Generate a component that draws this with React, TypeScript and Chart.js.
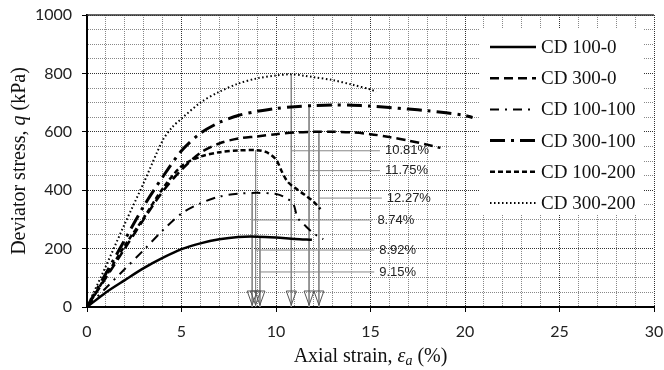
import React, { useEffect, useRef } from "react";
import { Chart, registerables } from "chart.js";

Chart.register(...registerables);

// ---- data ----
const seriesLabels = ["CD 100-0", "CD 300-0", "CD 100-100", "CD 300-100", "CD 100-200", "CD 300-200"];

const strain100_0 = [0, 1, 2, 3, 4, 5, 6, 7, 8, 9, 10, 11, 11.9];
const stress100_0 = [0, 50, 92, 133, 168, 198, 218, 232, 240, 241, 238, 233, 230];

const strain300_0 = [0, 1, 2, 3, 4, 5, 6, 7, 8, 9, 10, 11, 12, 13, 14, 15, 16, 17, 18, 18.7];
const stress300_0 = [0, 100, 200, 300, 395, 470, 528, 560, 577, 584, 592, 598, 600, 600, 598, 592, 582, 570, 556, 545];

const strain100_100 = [0, 1, 2, 3, 4, 5, 6, 7, 8, 9, 10, 10.4, 10.9, 11.15, 11.6, 12, 12.5];
const stress100_100 = [0, 65, 130, 195, 262, 320, 355, 378, 388, 391, 387, 378, 355, 305, 275, 252, 232];

const strain300_100 = [0, 1, 2, 3, 4, 5, 6, 7, 8, 9, 10, 11, 12, 13, 14, 15, 16, 17, 18, 19, 20, 20.4];
const stress300_100 = [0, 115, 230, 345, 445, 535, 595, 632, 656, 670, 680, 686, 690, 692, 691, 688, 683, 678, 672, 665, 656, 649];

const strain100_200 = [0, 1, 2, 3, 4, 5, 6, 7, 8, 9, 9.5, 10, 10.3, 10.6, 11, 11.5, 12, 12.35];
const stress100_200 = [0, 105, 210, 305, 405, 482, 515, 530, 536, 537, 530, 505, 465, 430, 408, 385, 360, 335];

const strain300_200 = [0, 1, 2, 3, 4, 4.5, 5, 6, 7, 8, 9, 10, 10.8, 11.5, 12, 13, 14, 15, 15.3];
const stress300_200 = [0, 140, 285, 425, 570, 615, 645, 700, 737, 765, 783, 793, 797, 792, 787, 777, 762, 745, 737];

// failure (peak) strains, peak stresses and label levels of the annotations
const peakStrains = [10.81, 11.75, 12.27, 8.74, 8.92, 9.15];
const peakStresses = [797, 688, 600, 392, 537, 241];
const labelStresses = [535, 467, 373, 298, 195, 120];
const labelLineEnds = [15.5, 15.5, 15.6, 15.1, 15.2, 15.2];

const xMax = 30;
const yMax = 1000;

// ---- styles ----
const lineStyles = [
  { dash: [] as number[], width: 2.5 },
  { dash: [9, 5], width: 2.5 },
  { dash: [9, 6, 2, 6], width: 2 },
  { dash: [15, 6, 3, 6], width: 3 },
  { dash: [5, 3], width: 2.5 },
  { dash: [1.5, 2.5], width: 2 },
];

function pts(xs: number[], ys: number[]) {
  return xs.map((x, i) => ({ x, y: ys[i] }));
}

const curveData = [
  pts(strain100_0, stress100_0),
  pts(strain300_0, stress300_0),
  pts(strain100_100, stress100_100),
  pts(strain300_100, stress300_100),
  pts(strain100_200, stress100_200),
  pts(strain300_200, stress300_200),
];

const overlayPlugin = {
  id: "overlay",
  afterDraw(chart: any) {
    const { ctx, chartArea: a, scales } = chart;
    const x = scales.x;
    const y = scales.y;
    ctx.save();

    // top frame line
    ctx.strokeStyle = "#333";
    ctx.lineWidth = 1.5;
    ctx.setLineDash([]);
    ctx.beginPath();
    ctx.moveTo(a.left, a.top);
    ctx.lineTo(a.right, a.top);
    ctx.stroke();

    // triangles marking failure strains
    ctx.strokeStyle = "#555";
    ctx.lineWidth = 1;
    const base = y.getPixelForValue(0);
    peakStrains.forEach((s) => {
      const px = x.getPixelForValue(s);
      ctx.beginPath();
      ctx.moveTo(px - 5, base - 16);
      ctx.lineTo(px + 5, base - 16);
      ctx.lineTo(px, base - 2);
      ctx.closePath();
      ctx.stroke();
    });

    // annotation labels
    ctx.font = '13px "Liberation Sans", Arial, sans-serif';
    ctx.fillStyle = "#222";
    ctx.textAlign = "left";
    ctx.textBaseline = "middle";
    peakStrains.forEach((s, i) => {
      ctx.fillText(
        s.toFixed(2) + "%",
        x.getPixelForValue(labelLineEnds[i]) + 5,
        y.getPixelForValue(labelStresses[i])
      );
    });

    // legend
    const lx = 480, ly = 29, lw = 163, lh = 185;
    ctx.fillStyle = "#fff";
    ctx.fillRect(lx, ly, lw, lh);
    ctx.font = '19px "Liberation Serif", "Times New Roman", serif';
    ctx.textBaseline = "middle";
    chart.data.datasets.slice(0, 6).forEach((ds: any, i: number) => {
      const rowY = 47 + i * 31.2;
      ctx.strokeStyle = "#000";
      ctx.lineWidth = ds.borderWidth;
      ctx.setLineDash(ds.borderDash || []);
      ctx.beginPath();
      ctx.moveTo(490, rowY);
      ctx.lineTo(536, rowY);
      ctx.stroke();
      ctx.setLineDash([]);
      ctx.fillStyle = "#111";
      ctx.fillText(ds.label, 541, rowY + 1);
    });

    // axis titles
    ctx.fillStyle = "#111";
    ctx.textBaseline = "middle";
    const serif = '"Liberation Serif", "Times New Roman", serif';
    // x title
    {
      const parts = [
        { t: "Axial strain, ", f: `20px ${serif}`, dy: 0 },
        { t: "\u03b5", f: `italic 20px ${serif}`, dy: 0 },
        { t: "a", f: `italic 14px ${serif}`, dy: 4 },
        { t: " (%)", f: `20px ${serif}`, dy: 0 },
      ];
      let total = 0;
      parts.forEach((p) => { ctx.font = p.f; total += ctx.measureText(p.t).width; });
      let cx = (a.left + a.right) / 2 - total / 2;
      const cy = 357;
      ctx.textAlign = "left";
      parts.forEach((p) => {
        ctx.font = p.f;
        ctx.fillText(p.t, cx, cy + p.dy);
        cx += ctx.measureText(p.t).width;
      });
    }
    // y title
    {
      const parts = [
        { t: "Deviator stress, ", f: `20px ${serif}` },
        { t: "q", f: `italic 20px ${serif}` },
        { t: " (kPa)", f: `20px ${serif}` },
      ];
      let total = 0;
      parts.forEach((p) => { ctx.font = p.f; total += ctx.measureText(p.t).width; });
      ctx.translate(20, (a.top + a.bottom) / 2);
      ctx.rotate(-Math.PI / 2);
      let cx = -total / 2;
      ctx.textAlign = "left";
      parts.forEach((p) => {
        ctx.font = p.f;
        ctx.fillText(p.t, cx, 0);
        cx += ctx.measureText(p.t).width;
      });
    }
    ctx.restore();
  },
};

export default function App() {
  const canvasRef = useRef<HTMLCanvasElement | null>(null);

  useEffect(() => {
    document.body.style.margin = "0";
    const canvas = canvasRef.current;
    if (!canvas) return;

    const curveSets = curveData.map((d, i) => ({
      label: seriesLabels[i],
      data: d,
      borderColor: "#000",
      borderWidth: lineStyles[i].width,
      borderDash: lineStyles[i].dash,
      pointRadius: 0,
      fill: false,
      tension: 0.3,
    }));

    const verticalSets = peakStrains.map((s, i) => ({
      label: "v" + i,
      data: [{ x: s, y: peakStresses[i] }, { x: s, y: 0 }],
      borderColor: "#888",
      borderWidth: 1,
      pointRadius: 0,
      fill: false,
    }));
    const horizontalSets = peakStrains.map((s, i) => ({
      label: "h" + i,
      data: [{ x: s, y: labelStresses[i] }, { x: labelLineEnds[i], y: labelStresses[i] }],
      borderColor: "#888",
      borderWidth: 1,
      pointRadius: 0,
      fill: false,
    }));

    const tickFont = { family: "Lato, 'Open Sans', sans-serif", size: 16 };

    const chart = new Chart(canvas, {
      type: "line",
      data: { datasets: [...curveSets, ...verticalSets, ...horizontalSets] as any },
      options: {
        animation: false,
        responsive: false,
        devicePixelRatio: 1,
        layout: { padding: { top: 15, right: 10, left: 0, bottom: 0 } },
        plugins: { legend: { display: false }, tooltip: { enabled: false } },
        scales: {
          x: {
            type: "linear",
            min: 0,
            max: xMax,
            afterFit: (s: any) => {
              s.height = 63;
              s.paddingLeft = 0;
              s.paddingRight = 0;
            },
            ticks: {
              stepSize: 1,
              autoSkip: false,
              maxRotation: 0,
              padding: 10,
              color: "#222",
              font: tickFont,
              callback: (v: any) => (Number(v) % 5 === 0 ? String(v) : ""),
            },
            grid: {
              color: (c: any) => (c.tick && c.tick.value % 5 === 0 ? "#333" : "#888"),
              tickColor: (c: any) => (c.tick && c.tick.value % 5 === 0 ? "#000" : "rgba(0,0,0,0)"),
              tickLength: 5,
              lineWidth: 1,
            },
            border: { display: true, color: "#000", width: 2, dash: [1, 1] },
          },
          y: {
            type: "linear",
            min: 0,
            max: yMax,
            afterFit: (s: any) => {
              s.width = 87;
              s.paddingTop = 0;
              s.paddingBottom = 0;
            },
            ticks: {
              stepSize: 50,
              autoSkip: false,
              padding: 10,
              color: "#222",
              font: tickFont,
              callback: (v: any) => (Number(v) % 200 === 0 ? String(v) : ""),
            },
            grid: {
              color: (c: any) => (c.tick && c.tick.value % 200 === 0 ? "#333" : "#888"),
              tickColor: (c: any) => (c.tick && c.tick.value % 200 === 0 ? "#000" : "rgba(0,0,0,0)"),
              tickLength: 5,
              lineWidth: 1,
            },
            border: { display: true, color: "#000", width: 2, dash: [1, 1] },
          },
        },
      },
      plugins: [overlayPlugin],
    });

    return () => chart.destroy();
  }, []);

  return (
    <div style={{ width: 664, height: 370, background: "#fff" }}>
      <canvas ref={canvasRef} width={664} height={370} />
    </div>
  );
}
